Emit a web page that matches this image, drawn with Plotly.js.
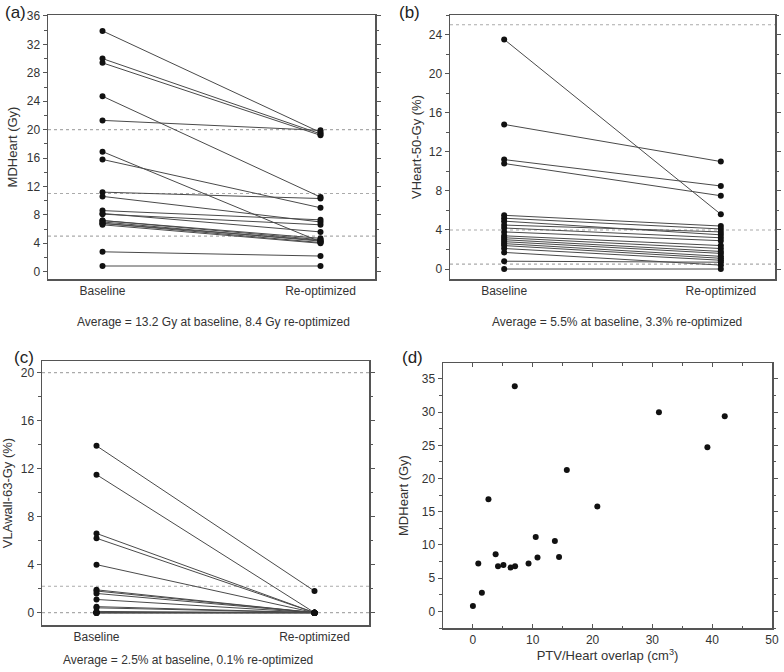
<!DOCTYPE html>
<html>
<head>
<meta charset="utf-8">
<script src="https://cdn.plot.ly/plotly-3.0.1.min.js"></script>
<style>html,body{margin:0;padding:0;background:#fff;} #chart{width:784px;height:672px;}</style>
</head>
<body>
<div id="chart"></div>
<script>
// ---------- DATA ----------
const categories = ["Baseline", "Re-optimized"];

// (a) Mean heart dose (Gy)
const mdHeartBase  = [33.9, 30.0, 29.4, 24.7, 21.3, 16.9, 15.8, 11.2, 10.6, 8.6, 8.2, 8.1, 7.2, 7.2, 7.0, 6.8, 6.8, 6.6, 2.8, 0.8];
const mdHeartReopt = [19.6, 19.4, 19.2, 10.5, 19.9, 4.2, 9.0, 10.3, 7.0, 7.3, 5.6, 6.6, 4.7, 4.5, 4.3, 4.1, 4.4, 4.0, 2.2, 0.8];
const refLinesA = [20, 11, 5];

// (b) VHeart-50-Gy (%)
const v50Base  = [23.5, 14.8, 11.2, 10.8, 5.5, 5.2, 4.9, 4.5, 4.2, 3.8, 3.4, 3.2, 3.0, 2.8, 2.6, 2.4, 2.1, 1.7, 0.8, 0.0];
const v50Reopt = [5.6, 11.0, 8.5, 7.5, 4.4, 4.1, 3.5, 3.8, 3.2, 2.9, 2.4, 2.1, 1.8, 1.6, 1.3, 1.1, 0.9, 0.4, 0.7, 0.0];
const refLinesB = [25, 4, 0.5];

// (c) VLAwall-63-Gy (%)
const vla63Base  = [13.9, 11.5, 6.6, 6.2, 4.0, 1.9, 1.8, 1.6, 1.1, 0.5, 0.4, 0.1, 0, 0, 0, 0, 0, 0, 0, 0];
const vla63Reopt = [1.8, 0, 0, 0, 0, 0, 0, 0, 0, 0, 0, 0, 0, 0, 0, 0, 0, 0, 0, 0];
const refLinesC = [20, 2.2, 0];

// (d) PTV/Heart overlap (cm3) vs baseline MDHeart (Gy), same patient order as mdHeartBase
const overlapCm3 = [7.0, 31.1, 42.1, 39.2, 15.7, 2.6, 20.8, 10.5, 13.7, 3.8, 14.4, 10.8, 0.9, 9.3, 5.1, 4.2, 7.05, 6.3, 1.5, 0.0];

const captions = [
  "Average = 13.2 Gy at baseline, 8.4 Gy re-optimized",
  "Average = 5.5% at baseline, 3.3% re-optimized",
  "Average = 2.5% at baseline, 0.1% re-optimized"
];
const panelLabels = ["(a)", "(b)", "(c)", "(d)"];

// ---------- LAYOUT HELPERS ----------
const W = 784, H = 672;
const px = v => v / W;           // x pixel -> paper
const py = v => 1 - v / H;       // y pixel -> paper
const FONT = "Liberation Sans, Arial, sans-serif";
const TXT = "#333";
const AX = "#555";

function pairTrace(base, reopt, xa, ya) {
  const xs = [], ys = [];
  base.forEach((b, i) => {
    xs.push(categories[0], categories[1], null);
    ys.push(b, reopt[i], null);
  });
  return {
    x: xs, y: ys, xaxis: xa, yaxis: ya, type: "scatter", mode: "lines+markers",
    line: {color: "#4a4a4a", width: 1},
    marker: {color: "#111", size: 6},
    connectgaps: false, hoverinfo: "skip", showlegend: false
  };
}

const traces = [
  pairTrace(mdHeartBase, mdHeartReopt, "x", "y"),
  pairTrace(v50Base, v50Reopt, "x2", "y2"),
  pairTrace(vla63Base, vla63Reopt, "x3", "y3"),
  {
    x: overlapCm3, y: mdHeartBase, xaxis: "x4", yaxis: "y4", type: "scatter", mode: "markers",
    marker: {color: "#111", size: 6}, hoverinfo: "skip", showlegend: false
  }
];

function catX(domain) {
  return {
    domain: domain, type: "category", range: [-0.25, 1.25],
    showline: true, linecolor: AX, linewidth: 1.5, mirror: true,
    ticks: "", showgrid: false, zeroline: false,
    tickfont: {family: FONT, size: 12, color: TXT}
  };
}
function numY(domain, range, dtick, title, standoff) {
  return {
    domain: domain, range: range, dtick: dtick, tick0: 0,
    showline: true, linecolor: AX, linewidth: 1.5, mirror: "ticks",
    ticks: "outside", ticklen: 4, tickcolor: AX, tickwidth: 1,
    minor: {dtick: dtick / 2, ticks: "outside", ticklen: 2.5, tickcolor: AX},
    showgrid: false, zeroline: false,
    tickfont: {family: FONT, size: 12, color: TXT},
    title: {text: title, font: {family: FONT, size: 13, color: TXT}, standoff: standoff}
  };
}

const shapes = [];
function addRefs(vals, xa, ya) {
  vals.forEach(v => shapes.push({
    type: "line", xref: xa + " domain", yref: ya, x0: 0, x1: 1, y0: v, y1: v,
    line: {color: "#aaaaaa", width: 1.1, dash: "dot"}, layer: "below"
  }));
}
addRefs(refLinesA, "x", "y");
addRefs(refLinesB, "x2", "y2");
addRefs(refLinesC, "x3", "y3");

const annotations = [];
const labelPos = [[3, 12], [397, 12], [12, 357], [400, 357]];
panelLabels.forEach((t, i) => annotations.push({
  text: t, xref: "paper", yref: "paper", x: px(labelPos[i][0]), y: py(labelPos[i][1]),
  xanchor: "left", yanchor: "middle", showarrow: false,
  font: {family: FONT, size: 17, color: "#222"}
}));
const capPos = [[213, 322], [617, 322], [188, 660]];
captions.forEach((t, i) => annotations.push({
  text: t, xref: "paper", yref: "paper", x: px(capPos[i][0]), y: py(capPos[i][1]),
  xanchor: "center", yanchor: "middle", showarrow: false,
  font: {family: FONT, size: 12, color: TXT}
}));

const layout = {
  width: W, height: H,
  margin: {l: 0, r: 0, t: 0, b: 0},
  paper_bgcolor: "#fff", plot_bgcolor: "#fff",
  font: {family: FONT, color: TXT},
  showlegend: false,
  xaxis:  catX([px(48), px(375)]),
  yaxis:  numY([py(279), py(15)], [-1.03, 36.14], 4, "MDHeart (Gy)", 6),
  xaxis2: Object.assign(catX([px(450), px(775)]), {anchor: "y2"}),
  yaxis2: Object.assign(numY([py(279), py(15)], [-1.02, 26.0], 4, "VHeart-50-Gy (%)", 4), {anchor: "x2"}),
  xaxis3: Object.assign(catX([px(42), px(369)]), {anchor: "y3"}),
  yaxis3: Object.assign(numY([py(625), py(361)], [-1.03, 20.97], 4, "VLAwall-63-Gy (%)", 8), {anchor: "x3"}),
  xaxis4: {
    domain: [px(443), px(772)], anchor: "y4", range: [-5, 50], dtick: 10, tick0: 0,
    showline: true, linecolor: AX, linewidth: 1.5, mirror: "ticks",
    ticks: "inside", ticklen: 4, tickcolor: AX,
    minor: {dtick: 5, ticks: "inside", ticklen: 2.5, tickcolor: AX},
    showgrid: false, zeroline: false,
    tickfont: {family: FONT, size: 12, color: TXT},
    title: {text: "PTV/Heart overlap (cm<sup>3</sup>)", font: {family: FONT, size: 13, color: TXT}, standoff: 4}
  },
  yaxis4: Object.assign(numY([py(628), py(363)], [-2.5, 37.4], 5, "MDHeart (Gy)", 10), {anchor: "x4"}),
  shapes: shapes,
  annotations: annotations
};

Plotly.newPlot("chart", traces, layout, {staticPlot: true, displayModeBar: false});
</script>
</body>
</html>
